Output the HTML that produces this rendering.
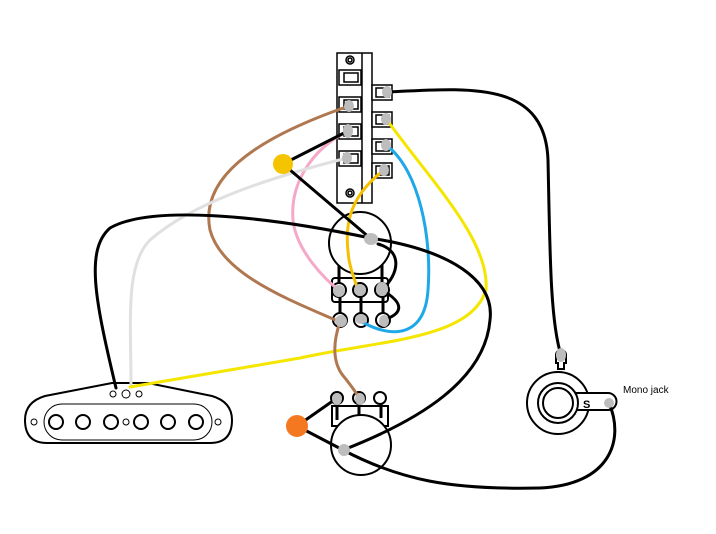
<!DOCTYPE html>
<html><head><meta charset="utf-8"><style>html,body{margin:0;padding:0;background:#fff;}svg{display:block;}</style></head>
<body>
<svg width="716" height="534" viewBox="0 0 716 534" xmlns="http://www.w3.org/2000/svg" font-family="Liberation Sans, sans-serif">
<rect width="716" height="534" fill="#fff"/>
<!-- switch -->
<g stroke="#000" stroke-width="1.5" fill="#fff">
<rect x="337" y="53" width="35" height="150"/>
<line x1="362" y1="53" x2="362" y2="203"/>
<rect x="339" y="70" width="22" height="15"/><rect x="344" y="73" width="14" height="9"/>
<rect x="339" y="97" width="22" height="15"/><rect x="344" y="100" width="14" height="9"/>
<rect x="339" y="124" width="22" height="15"/><rect x="344" y="127" width="14" height="9"/>
<rect x="339" y="151" width="22" height="15"/><rect x="344" y="154" width="14" height="9"/>
<rect x="372" y="85" width="20" height="15"/><rect x="376" y="88" width="13" height="9"/>
<rect x="372" y="112" width="20" height="15"/><rect x="376" y="115" width="13" height="9"/>
<rect x="372" y="139" width="20" height="15"/><rect x="376" y="142" width="13" height="9"/>
<rect x="372" y="163" width="20" height="15"/><rect x="376" y="166" width="13" height="9"/>
<circle cx="350" cy="60" r="4"/><circle cx="350" cy="60" r="2"/>
<circle cx="350" cy="193" r="4"/><circle cx="350" cy="193" r="2"/>
</g>
<!-- pot1 -->
<g stroke="#000" stroke-width="2" fill="#fff">
<rect x="332" y="278" width="56" height="24" rx="3"/>
<line x1="339" y1="262" x2="339" y2="282" stroke-width="3"/><line x1="382" y1="262" x2="382" y2="282" stroke-width="3"/>
<line x1="340" y1="295" x2="340" y2="315" stroke-width="3"/><line x1="361" y1="295" x2="361" y2="315" stroke-width="3"/><line x1="383" y1="295" x2="383" y2="315" stroke-width="3"/>
<circle cx="360" cy="243" r="31"/>
<circle cx="339" cy="290" r="7"/><circle cx="360" cy="290" r="7"/><circle cx="382" cy="290" r="7"/>
<circle cx="340" cy="320" r="7"/><circle cx="361" cy="320" r="7"/><circle cx="383" cy="320" r="7"/>
</g>
<!-- pot2 -->
<g stroke="#000" stroke-width="2" fill="#fff">
<rect x="332" y="406" width="56" height="20"/>
<line x1="337" y1="400" x2="337" y2="420" stroke-width="3"/><line x1="359" y1="400" x2="359" y2="418" stroke-width="3"/><line x1="381" y1="400" x2="381" y2="418" stroke-width="3"/>
<circle cx="361" cy="445" r="30"/>
<circle cx="337" cy="398" r="6"/><circle cx="359" cy="398" r="6"/><circle cx="380" cy="398" r="6"/>
</g>
<!-- jack -->
<g stroke="#000" stroke-width="2" fill="#fff">
<path d="M556 363 v-8 a5 5 0 0 1 10 0 v8 h-2 v6 h-6 v-6z"/>
<circle cx="558" cy="403" r="31"/>
<path d="M575 393 h33 a8 8 0 0 1 0 17 h-33z"/>
<circle cx="558" cy="403" r="20"/><circle cx="558" cy="403" r="15"/>
</g>
<text x="583" y="408" font-size="11" font-weight="bold">S</text>
<text x="623" y="393" font-size="10">Mono jack</text>
<!-- pickup -->
<g stroke="#000" stroke-width="2" fill="#fff">
<path d="M45 396 L112 383 L148 383 L212 396 Q232 402 232 420 Q232 443 210 443 L47 443 Q25 443 25 420 Q25 402 45 396 Z"/>
<rect x="44" y="404" width="168" height="36" rx="18" stroke-width="1"/>
</g>
<g stroke="#000" stroke-width="2" fill="none">
<circle cx="56" cy="422" r="7"/><circle cx="83" cy="422" r="7"/><circle cx="111" cy="422" r="7"/>
<circle cx="141" cy="422" r="7"/><circle cx="168" cy="422" r="7"/><circle cx="196" cy="422" r="7"/>
<circle cx="34" cy="422" r="3" stroke-width="1"/><circle cx="126" cy="422" r="3" stroke-width="1"/><circle cx="218" cy="422" r="3" stroke-width="1"/>
<circle cx="113" cy="394" r="3" stroke-width="1"/><circle cx="126" cy="394" r="4" stroke-width="1"/><circle cx="139" cy="394" r="3" stroke-width="1"/>
</g>
<!-- wires -->
<g fill="none" stroke-width="3" stroke-linecap="round">
<path d="M387 92 C470 88 545 80 548 160 C550 250 550 320 561 355" stroke="#000"/>
<path d="M349 106 C250 140 200 180 210 230 C222 275 290 300 340 322" stroke="#b07850"/>
<path d="M348 131 C310 150 290 185 293 220 C296 250 325 280 339 290" stroke="#f5a8c8"/>
<path d="M347 158 C260 180 190 205 150 240 C125 265 131 320 131 387" stroke="#e0e0e0"/>
<path d="M387 120 C430 180 490 240 486 290 C470 340 380 340 300 358 C230 370 170 380 130 387" stroke="#f5e600"/>
<path d="M386 145 C420 170 432 240 428 290 C425 335 395 340 362 322" stroke="#1ea8e8"/>
<path d="M384 170 C345 200 345 230 349 260 C352 275 356 283 358 290" stroke="#f5c000"/>
<path d="M348 131 L283 164 L370 238" stroke="#000"/>
<path d="M116 388 C95 300 85 250 110 228 C150 205 260 215 370 238" stroke="#000"/>
<path d="M370 238 C450 250 495 280 490 320 C485 380 420 420 343 450" stroke="#000"/>
<path d="M297 426 L343 450 C400 480 450 490 540 488 C610 485 625 440 609 403" stroke="#000"/>
<path d="M297 426 L337 398" stroke="#000"/>
<path d="M378 244 C400 250 402 270 382 290" stroke="#000"/>
<path d="M382 290 C408 305 400 315 383 320" stroke="#000"/>
<path d="M340 322 C332 345 333 365 345 378 C352 387 356 392 359 398" stroke="#b07850"/>
</g>
<circle cx="283" cy="164" r="10" fill="#f5c400"/>
<circle cx="297" cy="426" r="11" fill="#f47820"/>
<!-- lugs -->
<g fill="#bdbdbd">
<ellipse cx="387" cy="92" rx="5" ry="6"/><ellipse cx="386" cy="119" rx="5" ry="6"/><ellipse cx="386" cy="145" rx="5" ry="6"/><ellipse cx="384" cy="170" rx="5" ry="6"/>
<ellipse cx="349" cy="106" rx="5" ry="6"/><ellipse cx="348" cy="131" rx="5" ry="7"/><ellipse cx="347" cy="158" rx="5" ry="6"/>
<ellipse cx="371" cy="239" rx="7" ry="6"/>
<ellipse cx="339" cy="291" rx="6" ry="6"/><ellipse cx="360" cy="290" rx="6" ry="6"/><ellipse cx="382" cy="289" rx="6" ry="7"/>
<ellipse cx="341" cy="321" rx="6" ry="6"/><ellipse cx="361" cy="319" rx="6" ry="5"/><ellipse cx="384" cy="321" rx="5" ry="6"/>
<ellipse cx="337" cy="399" rx="5" ry="6"/><ellipse cx="360" cy="399" rx="5" ry="6"/>
<ellipse cx="344" cy="450" rx="6" ry="6"/>
<ellipse cx="561" cy="355" rx="5" ry="7"/><ellipse cx="609" cy="403" rx="5" ry="5"/>
</g>
</svg>
</body></html>
